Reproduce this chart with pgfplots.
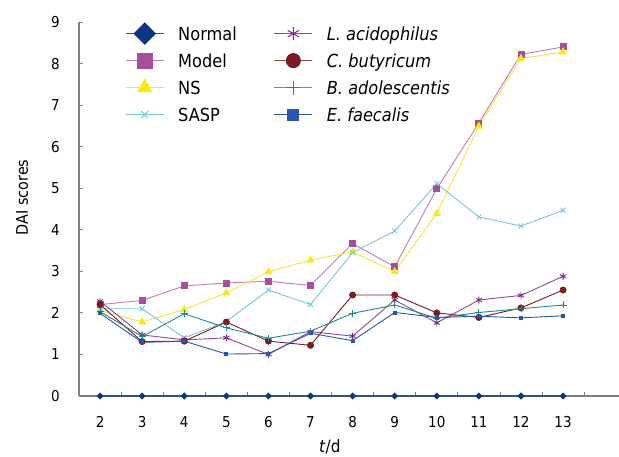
\documentclass[border=0pt]{standalone}
\usepackage{pgfplots}
\pgfplotsset{compat=1.18}
\usepackage{fontspec}
\setmainfont{DejaVu Sans}[FakeStretch=0.9]
\definecolor{cNormal}{HTML}{0D3580}
\definecolor{cNormalL}{HTML}{34508C}
\definecolor{cModel}{HTML}{A64F9C}
\definecolor{cModelL}{HTML}{C27BBA}
\definecolor{cNS}{HTML}{F5EB10}
\definecolor{cNSL}{HTML}{F0E640}
\definecolor{cSASP}{HTML}{78C8DA}
\definecolor{cLA}{HTML}{7A2A86}
\definecolor{cLAL}{HTML}{8E4A9A}
\definecolor{cCB}{HTML}{7B1A22}
\definecolor{cBA}{HTML}{1E8A84}
\definecolor{cEF}{HTML}{2A55B0}
\begin{document}
\begin{tikzpicture}[x=1pt,y=1pt]
\useasboundingbox (0,0) rectangle (619,457);
\begin{axis}[
  at={(79pt,61pt)}, anchor=south west,
  scale only axis, width=543pt, height=374pt,
  xmin=1.5, xmax=14.4, ymin=0, ymax=9,
  axis lines*=left,
  axis line style={-, draw=gray, line width=1.2pt},
  clip=false,
  xtick={2,...,13}, ytick={0,...,9},
  minor xtick={2.5,3.5,...,13.5},
  tick align=inside,
  major tick length=4pt, minor tick length=4pt,
  major x tick style={draw=none},
  minor x tick style={draw=gray, line width=0.8pt},
  y tick style={draw=gray, line width=0.8pt},
  /pgf/number format/assume math mode=true,
  tick label style={font=\fontsize{15}{18}\selectfont, text=black},
  xticklabel style={inner sep=0pt, anchor=north, yshift=-20pt},
  yticklabel style={inner sep=0pt, anchor=east, xshift=-19pt},
  legend columns=2,
  legend image code/.code={\draw[mark repeat=2,mark phase=2] plot coordinates {(0pt,0pt) (19pt,0pt) (38pt,0pt)};},
  legend style={at={(axis cs:2.594,9.05)}, anchor=north west, draw=none, fill=none,
    inner sep=0pt, font=\fontsize{18}{20}\selectfont, row sep=0pt,
    cells={anchor=west},
    nodes={inner sep=0pt, text height=13pt, text depth=0pt, minimum height=27pt},
    column sep=14pt,
    /tikz/every even column/.append style={column sep=37pt}},
]
% legend images
\addlegendimage{cNormalL, line width=1pt, mark=square*, mark options={rotate=45, fill=cNormal, draw=cNormal}, mark size=7.4pt}
\addlegendentry{Normal}
\addlegendimage{cLAL, line width=1pt, mark=asterisk, mark options={draw=cLA, line width=1pt}, mark size=6.5pt}
\addlegendentry{\textit{L. acidophilus}}
\addlegendimage{cModelL, line width=1pt, mark=square*, mark options={fill=cModel, draw=cModel}, mark size=7.5pt}
\addlegendentry{Model}
\addlegendimage{cCB!80!white, line width=1pt, mark=*, mark options={fill=cCB, draw=cCB}, mark size=7pt}
\addlegendentry{\textit{C. butyricum}}
\addlegendimage{cNSL, line width=1pt, mark=triangle*, mark options={fill=cNS, draw=cNS}, mark size=8pt}
\addlegendentry{NS}
\addlegendimage{cBA!80!white, line width=1pt, mark=+, mark options={draw=cBA, line width=1pt}, mark size=7pt}
\addlegendentry{\textit{B. adolescentis}}
\addlegendimage{cSASP, line width=1pt, mark=x, mark options={draw=cSASP, line width=1pt}, mark size=5pt}
\addlegendentry{SASP}
\addlegendimage{cEF, line width=1pt, mark=square*, mark options={fill=cEF, draw=cEF}, mark size=5.5pt}
\addlegendentry{\textit{E. faecalis}}
% data
\addplot[forget plot, cNormalL, line width=1.2pt, mark=square*, mark options={rotate=45, fill=cNormal, draw=cNormal}, mark size=1.9pt]
  coordinates {(2,0) (3,0) (4,0) (5,0) (6,0) (7,0) (8,0) (9,0) (10,0) (11,0) (12,0) (13,0)};
\addplot[forget plot, cModelL, line width=0.9pt, mark=square*, mark options={fill=cModel, draw=cModel}, mark size=3pt]
  coordinates {(2,2.20) (3,2.30) (4,2.65) (5,2.72) (6,2.76) (7,2.66) (8,3.67) (9,3.11) (10,4.99) (11,6.57) (12,8.22) (13,8.40)};
\addplot[forget plot, cNSL, line width=0.9pt, mark=triangle*, mark options={fill=cNS, draw=cNS}, mark size=3.8pt]
  coordinates {(2,2.06) (3,1.78) (4,2.08) (5,2.48) (6,2.99) (7,3.27) (8,3.47) (9,2.99) (10,4.39) (11,6.49) (12,8.12) (13,8.28)};
\addplot[forget plot, cSASP, line width=0.9pt, mark=x, mark options={draw=cSASP, line width=0.9pt}, mark size=3.5pt]
  coordinates {(2,2.10) (3,2.10) (4,1.40) (5,1.79) (6,2.55) (7,2.20) (8,3.45) (9,3.97) (10,5.11) (11,4.31) (12,4.09) (13,4.47)};
\addplot[forget plot, cLAL, line width=0.9pt, mark=asterisk, mark options={draw=cLA, line width=0.9pt}, mark size=3.5pt]
  coordinates {(2,2.28) (3,1.47) (4,1.35) (5,1.40) (6,1.00) (7,1.55) (8,1.44) (9,2.31) (10,1.76) (11,2.31) (12,2.42) (13,2.88)};
\addplot[forget plot, cCB, line width=0.9pt, mark=*, mark options={fill=cCB, draw=cCB}, mark size=3pt]
  coordinates {(2,2.20) (3,1.31) (4,1.32) (5,1.78) (6,1.32) (7,1.22) (8,2.43) (9,2.43) (10,2.00) (11,1.89) (12,2.12) (13,2.55)};
\addplot[forget plot, cBA, line width=0.9pt, mark=+, mark options={draw=cBA, line width=0.9pt}, mark size=3.5pt]
  coordinates {(2,2.03) (3,1.43) (4,1.98) (5,1.64) (6,1.39) (7,1.56) (8,1.99) (9,2.19) (10,1.87) (11,2.01) (12,2.10) (13,2.19)};
\addplot[forget plot, cEF, line width=0.9pt, mark=square*, mark options={fill=cEF, draw=cEF}, mark size=1.5pt]
  coordinates {(2,1.99) (3,1.29) (4,1.32) (5,1.01) (6,1.02) (7,1.51) (8,1.33) (9,2.01) (10,1.89) (11,1.92) (12,1.88) (13,1.93)};
% axis labels
\node[rotate=90, font=\fontsize{16}{18}\selectfont] at (axis cs:0.147,4.78) {DAI scores};
\node[font=\fontsize{17}{19}\selectfont] at (axis cs:7.46,-1.23) {\textit{t}/d};
\end{axis}
\end{tikzpicture}
\end{document}
